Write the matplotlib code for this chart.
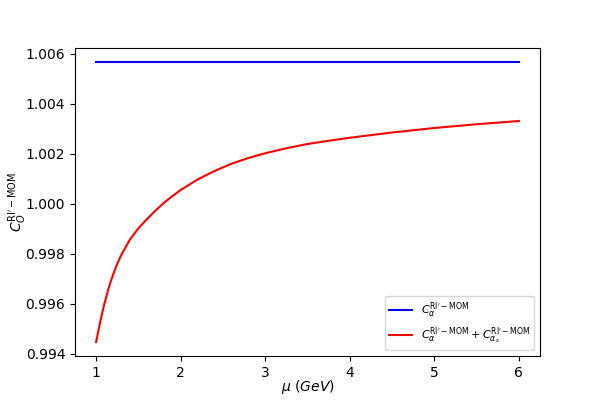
import numpy as np
from matplotlib import pyplot as plt

# -- Data --
mu = [1.0, 1.025, 1.05, 1.075, 1.1, 1.15, 1.2, 1.25, 1.3, 1.4, 1.5,
      1.6, 1.7, 1.8, 1.9, 2.0, 2.2, 2.4, 2.6, 2.8, 3.0, 3.25, 3.5,
      3.75, 4.0, 4.5, 5.0, 5.5, 6.0]  # GeV
c_full = [0.99447, 0.99490, 0.99530, 0.99568, 0.99603, 0.99665, 0.99716,
          0.99760, 0.99797, 0.99857, 0.99902, 0.99938, 0.99972, 1.00003,
          1.00030, 1.00055, 1.00097, 1.00131, 1.00160, 1.00183, 1.00202,
          1.00222, 1.00239, 1.00252, 1.00264, 1.00285, 1.00303, 1.00318,
          1.00331]
mu_const = [1.0, 6.0]
c_alpha = [1.00567, 1.00567]

# -- Plot --
fig = plt.figure(figsize=(6, 4), dpi=100)

plt.plot(mu_const, c_alpha, c='blue', label=r"$C_\alpha^{\rm RI'-MOM}$")
plt.plot(mu, c_full, c='red',
         label=r"$C_\alpha^{\rm RI'-MOM}+C_{\alpha_s}^{\rm RI'-MOM}$")

plt.xlabel(r'$\mu\ (GeV)$', labelpad=-1)
plt.ylabel(r"$C_O^{\rm RI'-MOM}$", labelpad=-2)
plt.legend(loc='lower right', fontsize=8)

plt.savefig('out.png')
